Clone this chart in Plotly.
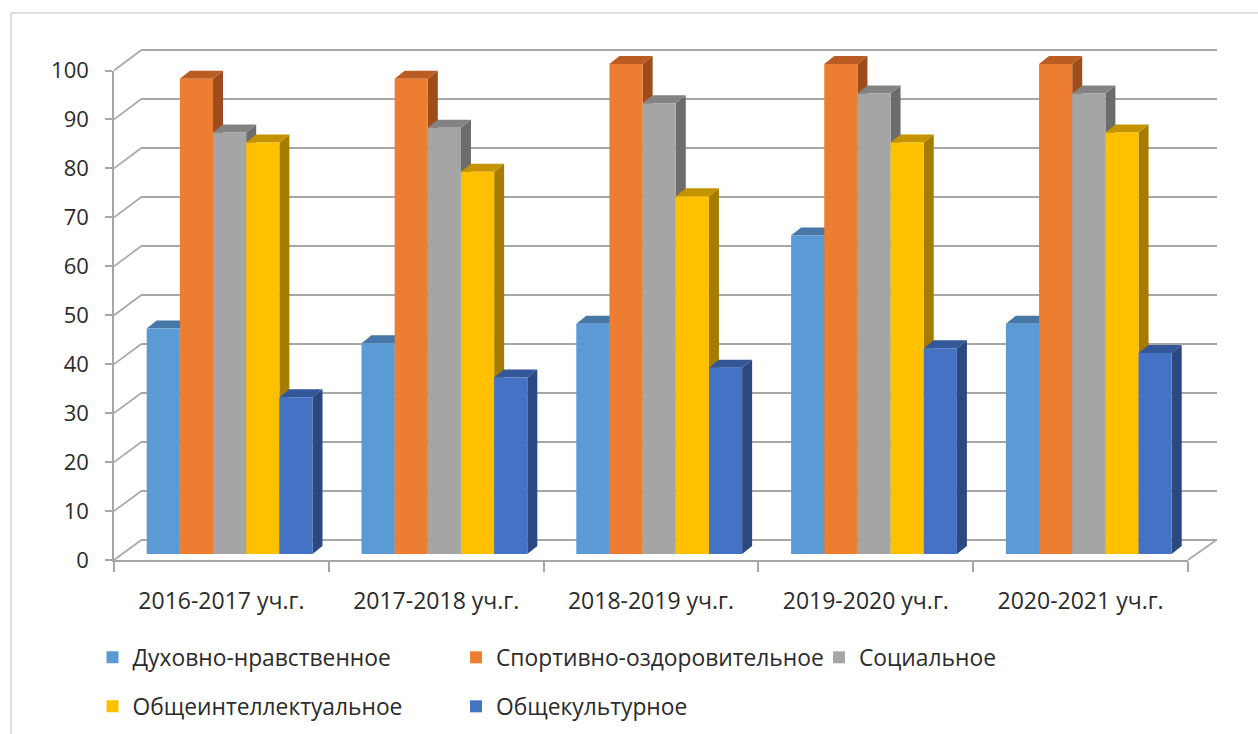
import plotly.graph_objects as go

# ---------------- data ----------------
CATEGORIES = ["2016-2017 уч.г.", "2017-2018 уч.г.", "2018-2019 уч.г.",
              "2019-2020 уч.г.", "2020-2021 уч.г."]
SERIES_NAMES = ["Духовно-нравственное", "Спортивно-оздоровительное", "Социальное",
                "Общеинтеллектуальное", "Общекультурное"]
DUKHOVNO = [46, 43, 47, 65, 47]
SPORT = [97, 97, 100, 100, 100]
SOCIAL = [86, 87, 92, 94, 94]
INTELLECT = [84, 78, 73, 84, 86]
CULTURE = [32, 36, 38, 42, 41]
Y_TICKS = list(range(0, 101, 10))

SERIES_VALUES = [DUKHOVNO, SPORT, SOCIAL, INTELLECT, CULTURE]

# ---------------- styles ----------------
FRONT_COLORS = ["#5B9BD5", "#ED7D31", "#A5A5A5", "#FFC000", "#4472C4"]
TOP_COLORS = ["#4677A6", "#BA5C22", "#838383", "#C49300", "#34579A"]
SIDE_COLORS = ["#3D6890", "#9E4C1B", "#6C6C6C", "#A57C00", "#2B4880"]
GRID = "#A6A6A6"
TEXT = "#2B2B2B"
FONT = "Open Sans"
FS_Y = 22
FS_X = 23
FS_LEG = 22.8

W, H = 1258, 734


def fx(p):
    return p / W


def fy(p):
    return 1 - p / H


# geometry (pixels)
FRONT_LEFT, FRONT_RIGHT = 114, 1188
FRONT_Y0, FRONT_Y100 = 560, 70.5
DEPTH_X = 28
BACK_Y0, BACK_Y100 = 539.5, 49.5
BAR_SHIFT = 8.2
BAR_Y0, BAR_Y100 = 554, 64
FACE_DX, FACE_DY = 10, 8
BARGAP = 0.228

n_cat = len(CATEGORIES)
x_idx = list(range(n_cat))
s_back = (BACK_Y0 - BACK_Y100) / 100.0
s_front = (FRONT_Y0 - FRONT_Y100) / 100.0
s_bar = (BAR_Y0 - BAR_Y100) / 100.0
BAR_YMAX = 105
cat_px = (FRONT_RIGHT - FRONT_LEFT) / n_cat

fig = go.Figure()

# empty helper traces so the back-wall and front-axis subplots are created
fig.add_trace(go.Scatter(x=[None], y=[None], mode="markers", showlegend=False,
                         hoverinfo="skip", xaxis="x", yaxis="y"))
fig.add_trace(go.Scatter(x=[None], y=[None], mode="markers", showlegend=False,
                         hoverinfo="skip", xaxis="x2", yaxis="y2"))

legend_ids = ["legend", "legend2", "legend3", "legend4", "legend5"]
for j, (name, vals) in enumerate(zip(SERIES_NAMES, SERIES_VALUES)):
    fig.add_trace(go.Bar(
        x=x_idx, y=vals, name=name,
        marker=dict(color=FRONT_COLORS[j], line=dict(width=0)),
        xaxis="x3", yaxis="y3", legend=legend_ids[j], showlegend=True,
        hovertemplate="%{fullData.name}: %{y}<extra></extra>",
    ))

# 3D faces of the bars, derived from the data values
shapes = []
g = 1 - BARGAP
bw = g / len(SERIES_VALUES)
dxu = FACE_DX / cat_px
dyu = FACE_DY / s_bar
side_shapes, top_shapes = [], []
for j, vals in enumerate(SERIES_VALUES):
    for i, v in enumerate(vals):
        left = i - g / 2 + j * bw
        right = left + bw
        side = (f"M{right},0 L{right},{v} L{right + dxu},{v + dyu} "
                f"L{right + dxu},{dyu} Z")
        top = (f"M{left},{v} L{right},{v} L{right + dxu},{v + dyu} "
               f"L{left + dxu},{v + dyu} Z")
        side_shapes.append(dict(type="path", path=side, xref="x3", yref="y3",
                                fillcolor=SIDE_COLORS[j], line=dict(width=0),
                                layer="between"))
        top_shapes.append(dict(type="path", path=top, xref="x3", yref="y3",
                               fillcolor=TOP_COLORS[j], line=dict(width=0),
                               layer="between"))
shapes += side_shapes + top_shapes

# chart border
shapes.append(dict(type="rect", xref="paper", yref="paper",
                   x0=fx(11), y0=fy(13), x1=fx(W + 20), y1=fy(H + 20),
                   line=dict(color="#BFBFBF", width=1), layer="below"))
# slanted connectors from front ticks to back wall gridlines
for v in Y_TICKS:
    shapes.append(dict(type="line", xref="paper", yref="paper",
                       x0=fx(FRONT_LEFT), y0=fy(FRONT_Y0 - v * s_front),
                       x1=fx(FRONT_LEFT + DEPTH_X), y1=fy(BACK_Y0 - v * s_back),
                       line=dict(color=GRID, width=1.6), layer="below"))
# right floor edge
shapes.append(dict(type="line", xref="paper", yref="paper",
                   x0=fx(FRONT_RIGHT), y0=fy(FRONT_Y0),
                   x1=fx(FRONT_RIGHT + DEPTH_X + 1), y1=fy(BACK_Y0),
                   line=dict(color=GRID, width=1.6), layer="below"))

yfont = dict(family=FONT, size=FS_Y, color=TEXT)
xfont = dict(family=FONT, size=FS_X, color=TEXT)
leg_font = dict(family=FONT, size=FS_LEG, color=TEXT)

# legends: 3 columns / 2 rows
COL_TEXT_X = [132.5, 496, 859]
ROW_Y = [657.5, 706.5]
POS = [(0, 0), (1, 0), (2, 0), (0, 1), (1, 1)]
legends = {}
for k, (c, r) in enumerate(POS):
    legends[legend_ids[k]] = dict(
        x=fx(COL_TEXT_X[c] - 40), y=fy(ROW_Y[r]), xanchor="left", yanchor="middle",
        font=leg_font, bgcolor="rgba(0,0,0,0)", borderwidth=0, orientation="v",
    )

fig.update_layout(
    width=W, height=H, autosize=False,
    margin=dict(l=0, r=0, t=0, b=0, autoexpand=False),
    paper_bgcolor="white", plot_bgcolor="rgba(0,0,0,0)",
    barmode="group", bargap=BARGAP, bargroupgap=0,
    font=yfont, showlegend=True,
    shapes=shapes,
    # back wall (gridlines)
    xaxis=dict(domain=[fx(FRONT_LEFT + DEPTH_X), fx(FRONT_RIGHT + DEPTH_X + 1)],
               range=[0, 1], showgrid=False, showticklabels=False, ticks="",
               showline=False, zeroline=False, anchor="y", fixedrange=True,
               automargin=False),
    yaxis=dict(domain=[fy(BACK_Y0 + s_back), fy(BACK_Y100 - s_back)],
               range=[-1, 101], tickmode="array", tickvals=Y_TICKS,
               showgrid=True, gridcolor=GRID, gridwidth=1.6,
               showticklabels=False, ticks="", showline=False, zeroline=False,
               anchor="x", fixedrange=True, automargin=False),
    # front axes
    xaxis2=dict(domain=[fx(FRONT_LEFT), fx(FRONT_RIGHT)], range=[-0.5, n_cat - 0.5],
                anchor="y2", tickmode="array", tickvals=x_idx, ticktext=CATEGORIES,
                ticks="", showgrid=False, zeroline=False,
                showline=True, linecolor=GRID, linewidth=1.6,
                ticklabelstandoff=20, tickfont=xfont,
                minor=dict(tickmode="array", tickvals=[i - 0.5 for i in range(n_cat + 1)],
                           ticks="outside", ticklen=10, tickcolor=GRID, tickwidth=1.6,
                           showgrid=False),
                fixedrange=True, automargin=False),
    yaxis2=dict(domain=[fy(FRONT_Y0), fy(FRONT_Y100)], range=[0, 100],
                anchor="x2", tickmode="array", tickvals=Y_TICKS,
                ticks="outside", ticklen=7, tickcolor=GRID, tickwidth=1.6,
                showline=True, linecolor=GRID, linewidth=1.6,
                showgrid=False, zeroline=False, ticklabelstandoff=12,
                tickfont=yfont, fixedrange=True, automargin=False),
    # bars
    xaxis3=dict(domain=[fx(FRONT_LEFT + BAR_SHIFT), fx(FRONT_RIGHT + BAR_SHIFT)],
                range=[-0.5, n_cat - 0.5], anchor="y3", visible=False, fixedrange=True,
                automargin=False),
    yaxis3=dict(domain=[fy(BAR_Y0), fy(BAR_Y0 - BAR_YMAX * s_bar)],
                range=[0, BAR_YMAX], anchor="x3", visible=False, fixedrange=True,
                automargin=False),
    **legends,
)

fig.write_html("out.html", post_script="document.body.style.margin='0';",
               config={"displayModeBar": False})
